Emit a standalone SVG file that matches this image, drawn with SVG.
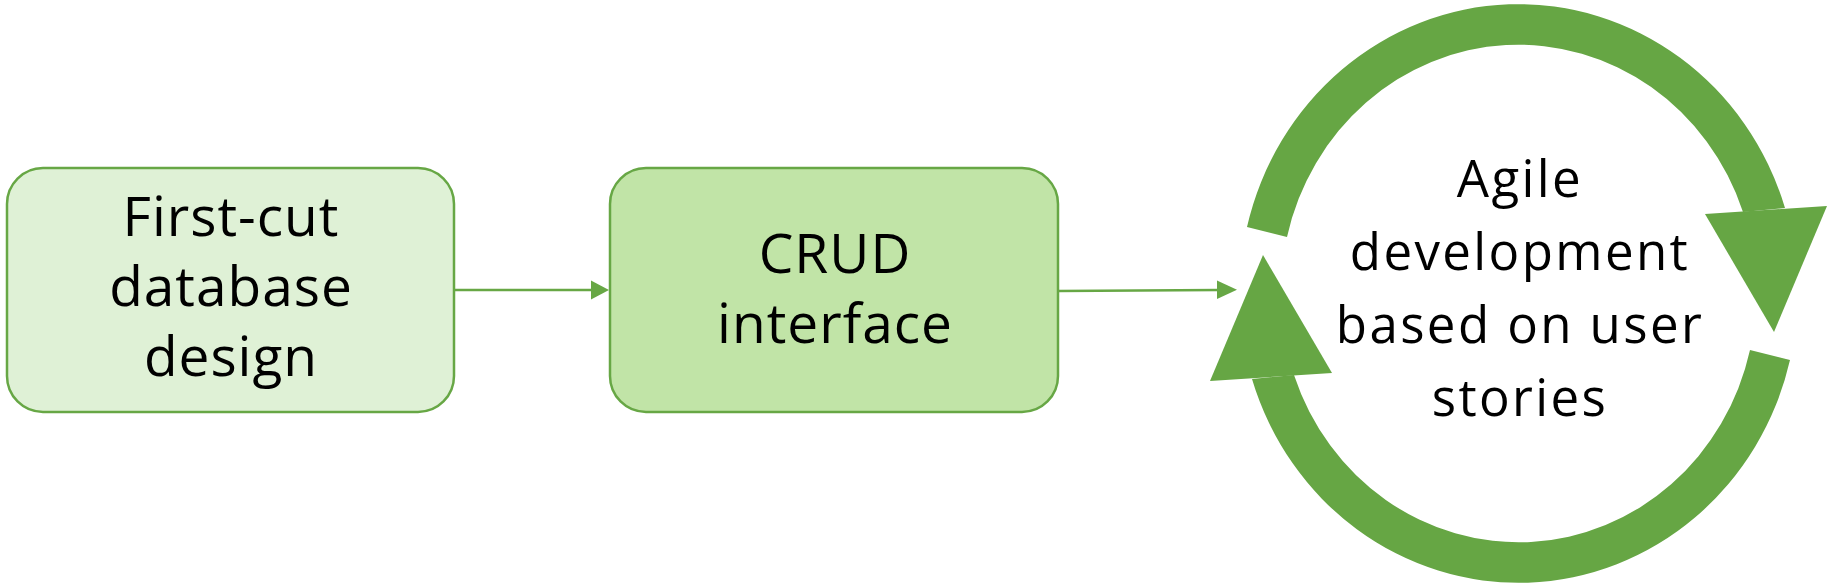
<svg xmlns="http://www.w3.org/2000/svg" width="1830" height="586" viewBox="0 0 1830 586">
<defs>
<style>
.box{stroke:#67A745;stroke-width:2.5}
.b1{fill:#DFF1D6}
.b2{fill:#C1E4A7}
.t{font-family:"Open Sans","Noto Sans",sans-serif;fill:#000;text-anchor:middle}
.tb{font-size:55px;letter-spacing:1px}
.tc{font-size:51px;letter-spacing:2.4px}
.conn{stroke:#67A745;stroke-width:2.5;fill:none}
.head{fill:#67A745}
.ring{fill:#66A644}
</style>
</defs>
<rect width="1830" height="586" fill="#FFFFFF"/>
<g id="node-first-cut">
<rect class="box b1" x="7" y="168" width="447" height="244" rx="36" ry="36"/>
<text class="t tb" x="231" y="236">First-cut</text>
<text class="t tb" x="231" y="306">database</text>
<text class="t tb" x="231" y="376">design</text>
</g>
<g id="node-crud">
<rect class="box b2" x="610" y="168" width="448" height="244" rx="36" ry="36"/>
<text class="t tb" x="835" y="273">CRUD</text>
<text class="t tb" x="835" y="343">interface</text>
</g>
<g id="node-agile">
<path class="ring" d="M1247,227 A279,289.5 0 0 1 1785,208 L1743,212 A237.6,248.5 0 0 0 1287,237 Z"/>
<polygon class="ring" points="1705,214 1827,206 1774,332"/>
<path class="ring" d="M1790,360 A279,289.5 0 0 1 1252,379 L1294,375 A237.6,248.5 0 0 0 1750,350 Z"/>
<polygon class="ring" points="1332,373 1210,381 1263,255"/>
<text class="t tc" x="1520" y="197">Agile</text>
<text class="t tc" x="1520" y="270">development</text>
<text class="t tc" x="1520" y="343">based on user</text>
<text class="t tc" x="1520" y="416">stories</text>
</g>
<g id="connectors">
<line class="conn" x1="454" y1="290" x2="593" y2="290"/>
<polygon class="head" points="591,280.5 609,290 591,299.5"/>
<line class="conn" x1="1058" y1="291" x2="1219" y2="290"/>
<polygon class="head" points="1217,280.5 1237,289.8 1217,299"/>
</g>
</svg>
